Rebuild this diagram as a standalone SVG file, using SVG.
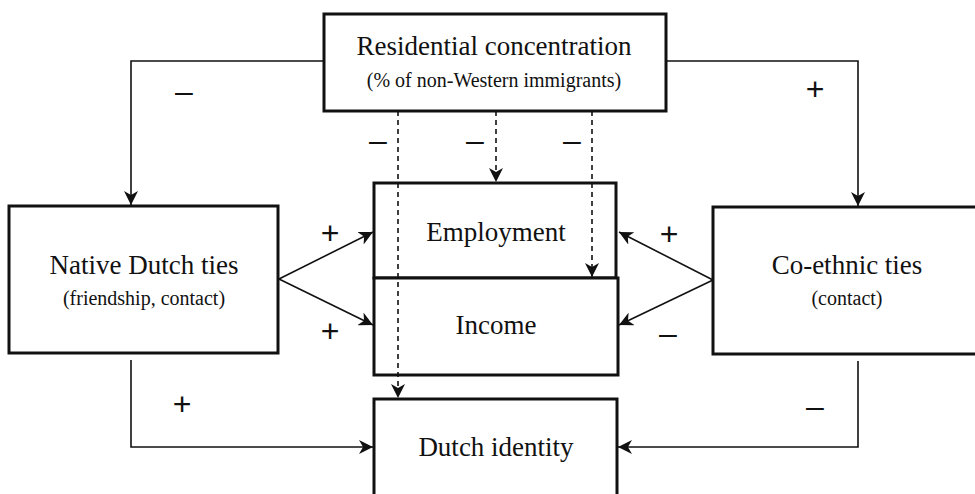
<svg xmlns="http://www.w3.org/2000/svg" width="975" height="494" viewBox="0 0 975 494">
<style>
.box{fill:#fff;stroke:#111;stroke-width:3}
.ln{fill:none;stroke:#111;stroke-width:1.6}
.ds{fill:none;stroke:#111;stroke-width:1.6;stroke-dasharray:5,4}
.t1{font-family:"Liberation Serif",serif;font-size:27px;fill:#111;text-anchor:middle}
.t2{font-family:"Liberation Serif",serif;font-size:20px;fill:#111;text-anchor:middle}
.sg{font-family:"Liberation Sans",sans-serif;font-size:32px;fill:#111;text-anchor:middle}
</style>
<defs>
<marker id="ah" viewBox="0 0 12 12" refX="12" refY="6" markerWidth="14" markerHeight="14" markerUnits="userSpaceOnUse" orient="auto">
<path d="M0,0 L12,6 L0,12 L3.5,6 z" fill="#111"/>
</marker>
</defs>
<rect width="975" height="494" fill="#fff"/>
<g id="residential">
<rect class="box" x="324" y="14" width="342" height="97"/>
<text class="t1" x="494" y="55">Residential concentration</text>
<text class="t2" x="494" y="87">(% of non-Western immigrants)</text>
</g>
<g id="employment">
<rect class="box" x="374" y="183" width="242" height="95"/>
<text class="t1" x="496" y="241">Employment</text>
</g>
<g id="income">
<rect class="box" x="374" y="278" width="244" height="97"/>
<text class="t1" x="496" y="334">Income</text>
</g>
<g id="native">
<rect class="box" x="9" y="206" width="269" height="147"/>
<text class="t1" x="144" y="274">Native Dutch ties</text>
<text class="t2" x="144" y="305">(friendship, contact)</text>
</g>
<g id="coethnic">
<rect class="box" x="713" y="207" width="265" height="147"/>
<text class="t1" x="847" y="274">Co-ethnic ties</text>
<text class="t2" x="847" y="305">(contact)</text>
</g>
<g id="identity">
<rect class="box" x="374" y="399" width="243" height="100"/>
<text class="t1" x="496" y="456">Dutch identity</text>
</g>
<g id="connectors">
<path class="ln" d="M324,61 H131 V205" marker-end="url(#ah)"/>
<path class="ln" d="M666,61 H858 V206" marker-end="url(#ah)"/>
<path class="ds" d="M398,111 V398" marker-end="url(#ah)"/>
<path class="ds" d="M496,111 V182" marker-end="url(#ah)"/>
<path class="ds" d="M592,111 V277" marker-end="url(#ah)"/>
<path class="ln" d="M279,279 L373,232" marker-end="url(#ah)"/>
<path class="ln" d="M279,279 L373,325" marker-end="url(#ah)"/>
<path class="ln" d="M713,280 L619,232" marker-end="url(#ah)"/>
<path class="ln" d="M713,280 L619,325" marker-end="url(#ah)"/>
<path class="ln" d="M131,360 V447 H373" marker-end="url(#ah)"/>
<path class="ln" d="M858,361 V447 H618" marker-end="url(#ah)"/>
</g>
<g id="labels">
<text class="sg" x="184" y="101.5">–</text>
<text class="sg" x="815" y="99.5">+</text>
<text class="sg" x="378" y="150.5">–</text>
<text class="sg" x="475" y="150.5">–</text>
<text class="sg" x="572" y="150.5">–</text>
<text class="sg" x="330" y="244">+</text>
<text class="sg" x="330" y="342">+</text>
<text class="sg" x="669" y="245">+</text>
<text class="sg" x="668" y="343.5">–</text>
<text class="sg" x="182" y="415">+</text>
<text class="sg" x="815" y="416.5">–</text>
</g>
</svg>
